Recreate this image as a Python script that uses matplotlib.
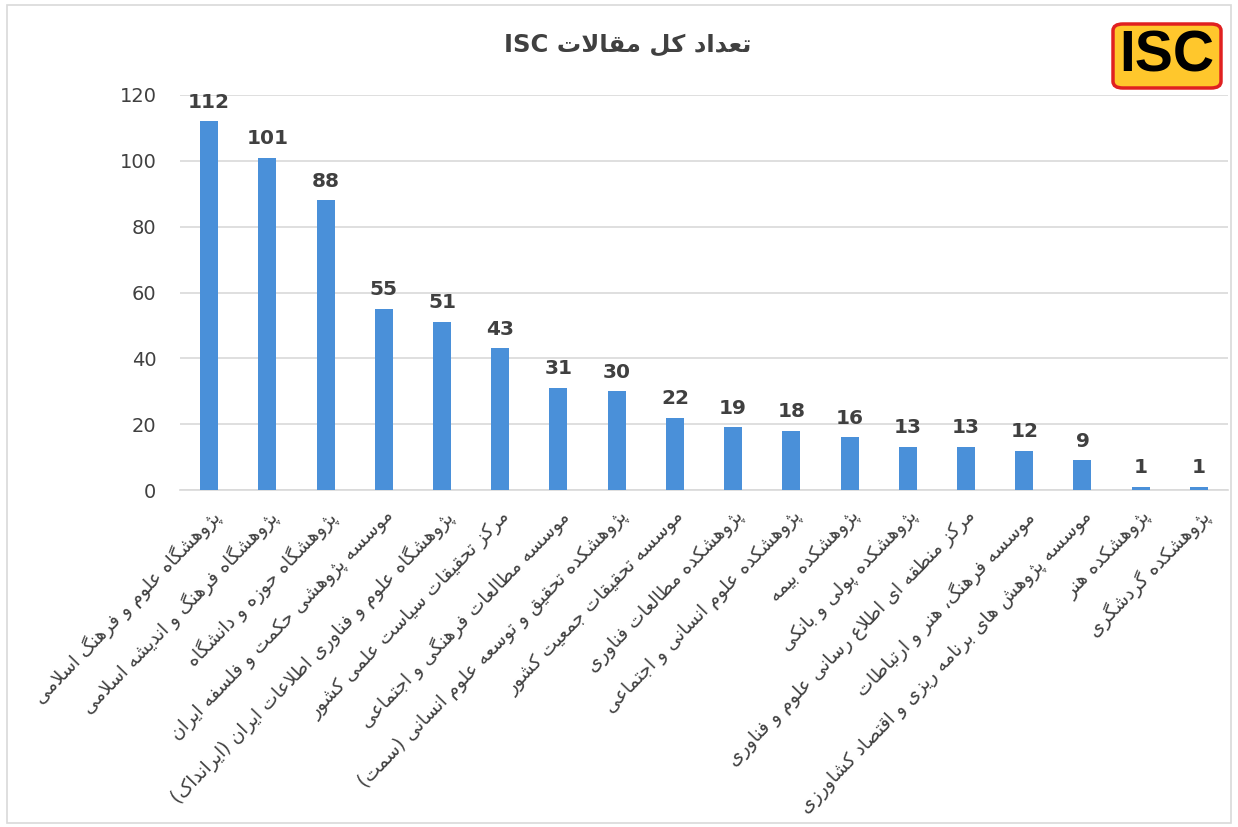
import matplotlib
matplotlib.use("Agg")
import matplotlib.pyplot as plt
from matplotlib.patches import Rectangle, FancyBboxPatch

plt.rcParams['font.family'] = ['DejaVu Sans']

categories = [
    "پژوهشگاه علوم و فرهنگ اسلامی",
    "پژوهشگاه فرهنگ و اندیشه اسلامی",
    "پژوهشگاه حوزه و دانشگاه",
    "موسسه پژوهشی حکمت و فلسفه ایران",
    "پژوهشگاه علوم و فناوری اطلاعات ایران (ایرانداک)",
    "مرکز تحقیقات سیاست علمی کشور",
    "موسسه مطالعات فرهنگی و اجتماعی",
    "پژوهشکده تحقیق و توسعه علوم انسانی (سمت)",
    "موسسه تحقیقات جمعیت کشور",
    "پژوهشکده مطالعات فناوری",
    "پژوهشکده علوم انسانی و اجتماعی",
    "پژوهشکده بیمه",
    "پژوهشکده پولی و بانکی",
    "مرکز منطقه ای اطلاع رسانی علوم و فناوری",
    "موسسه فرهنگ، هنر و ارتباطات",
    "موسسه پژوهش های برنامه ریزی و اقتصاد کشاورزی",
    "پژوهشکده هنر",
    "پژوهشکده گردشگری",
]
values = [112, 101, 88, 55, 51, 43, 31, 30, 22, 19, 18, 16, 13, 13, 12, 9, 1, 1]
yticks = [0, 20, 40, 60, 80, 100, 120]
title_fa = "تعداد کل مقالات"
title_latin = "ISC"

# ---- minimal Arabic/Persian shaping (isolated, final, initial, medial) ----
FORMS = {
    '\u0621': (0xFE80, None, None, None),
    '\u0622': (0xFE81, 0xFE82, None, None),
    '\u0623': (0xFE83, 0xFE84, None, None),
    '\u0624': (0xFE85, 0xFE86, None, None),
    '\u0625': (0xFE87, 0xFE88, None, None),
    '\u0626': (0xFE89, 0xFE8A, 0xFE8B, 0xFE8C),
    '\u0627': (0xFE8D, 0xFE8E, None, None),
    '\u0628': (0xFE8F, 0xFE90, 0xFE91, 0xFE92),
    '\u0629': (0xFE93, 0xFE94, None, None),
    '\u062A': (0xFE95, 0xFE96, 0xFE97, 0xFE98),
    '\u062B': (0xFE99, 0xFE9A, 0xFE9B, 0xFE9C),
    '\u062C': (0xFE9D, 0xFE9E, 0xFE9F, 0xFEA0),
    '\u062D': (0xFEA1, 0xFEA2, 0xFEA3, 0xFEA4),
    '\u062E': (0xFEA5, 0xFEA6, 0xFEA7, 0xFEA8),
    '\u062F': (0xFEA9, 0xFEAA, None, None),
    '\u0630': (0xFEAB, 0xFEAC, None, None),
    '\u0631': (0xFEAD, 0xFEAE, None, None),
    '\u0632': (0xFEAF, 0xFEB0, None, None),
    '\u0633': (0xFEB1, 0xFEB2, 0xFEB3, 0xFEB4),
    '\u0634': (0xFEB5, 0xFEB6, 0xFEB7, 0xFEB8),
    '\u0635': (0xFEB9, 0xFEBA, 0xFEBB, 0xFEBC),
    '\u0636': (0xFEBD, 0xFEBE, 0xFEBF, 0xFEC0),
    '\u0637': (0xFEC1, 0xFEC2, 0xFEC3, 0xFEC4),
    '\u0638': (0xFEC5, 0xFEC6, 0xFEC7, 0xFEC8),
    '\u0639': (0xFEC9, 0xFECA, 0xFECB, 0xFECC),
    '\u063A': (0xFECD, 0xFECE, 0xFECF, 0xFED0),
    '\u0641': (0xFED1, 0xFED2, 0xFED3, 0xFED4),
    '\u0642': (0xFED5, 0xFED6, 0xFED7, 0xFED8),
    '\u0643': (0xFED9, 0xFEDA, 0xFEDB, 0xFEDC),
    '\u0644': (0xFEDD, 0xFEDE, 0xFEDF, 0xFEE0),
    '\u0645': (0xFEE1, 0xFEE2, 0xFEE3, 0xFEE4),
    '\u0646': (0xFEE5, 0xFEE6, 0xFEE7, 0xFEE8),
    '\u0647': (0xFEE9, 0xFEEA, 0xFEEB, 0xFEEC),
    '\u0648': (0xFEED, 0xFEEE, None, None),
    '\u0649': (0xFEEF, 0xFEF0, None, None),
    '\u064A': (0xFEF1, 0xFEF2, 0xFEF3, 0xFEF4),
    '\u067E': (0xFB56, 0xFB57, 0xFB58, 0xFB59),
    '\u0686': (0xFB7A, 0xFB7B, 0xFB7C, 0xFB7D),
    '\u0698': (0xFB8A, 0xFB8B, None, None),
    '\u06A9': (0xFB8E, 0xFB8F, 0xFB90, 0xFB91),
    '\u06AF': (0xFB92, 0xFB93, 0xFB94, 0xFB95),
    '\u06CC': (0xFBFC, 0xFBFD, 0xFBFE, 0xFBFF),
}
LAMALEF = {'\u0627': (0xFEFB, 0xFEFC), '\u0622': (0xFEF5, 0xFEF6),
           '\u0623': (0xFEF7, 0xFEF8), '\u0625': (0xFEF9, 0xFEFA)}


def dual(c):
    return c in FORMS and FORMS[c][2] is not None


def joining(c):
    return c in FORMS and FORMS[c][1] is not None


def shape(s):
    out = []
    i = 0
    n = len(s)
    while i < n:
        c = s[i]
        prev = s[i - 1] if i > 0 else ''
        pj = dual(prev)
        if c == '\u0644' and i + 1 < n and s[i + 1] in LAMALEF:
            iso, fin = LAMALEF[s[i + 1]]
            out.append(chr(fin if pj else iso))
            i += 2
            continue
        if c not in FORMS:
            out.append(c)
            i += 1
            continue
        nxt = s[i + 1] if i + 1 < n else ''
        nj = dual(c) and joining(nxt)
        f = FORMS[c]
        if pj and nj:
            code = f[3]
        elif pj and f[1] is not None:
            code = f[1]
        elif nj:
            code = f[2]
        else:
            code = f[0]
        out.append(chr(code))
        i += 1
    return out


def rtl(s):
    chars = shape(s)[::-1]
    swap = {'(': ')', ')': '('}
    return ''.join(swap.get(c, c) for c in chars)


fig = plt.figure(figsize=(12.38, 8.27), dpi=100)
ax = fig.add_axes([180 / 1238, 1 - 490 / 827, (1228 - 180) / 1238, (490 - 95) / 827])

x = list(range(len(values)))
bars = ax.bar(x, values, width=0.31, color='#4A90D9', zorder=3)
for xi, v in zip(x, values):
    ax.annotate(str(v), (xi, v), xytext=(0, 7), textcoords='offset points',
                ha='center', va='bottom', fontsize=14.5, fontweight='bold',
                color='#404040')

ax.set_xlim(-0.5, len(values) - 0.5)
ax.set_ylim(0, 120)
ax.set_yticks(yticks)
ax.set_yticklabels([str(t) for t in yticks], fontsize=14, color='#404040')
ax.yaxis.grid(True, color='#D9D9D9', linewidth=1.2, zorder=0)
ax.tick_params(axis='y', length=0, pad=17)
ax.tick_params(axis='x', length=0, pad=12)
for sp in ['top', 'right', 'left']:
    ax.spines[sp].set_visible(False)
ax.spines['bottom'].set_color('#D9D9D9')
ax.spines['bottom'].set_linewidth(1.2)

ax.set_xticks(x)
ax.set_xticklabels([rtl(c) for c in categories], rotation=46, ha='right',
                   rotation_mode='anchor', fontsize=13.5, color='#404040')

fig.text(628 / 1238, 1 - 45 / 827, title_latin + ' ' + rtl(title_fa),
         ha='center', va='center', fontsize=17.5, fontweight='bold', color='#404040')

# outer chart frame
fig.patches.append(Rectangle((7 / 1238, 4 / 827), 1224 / 1238, 818 / 827,
                             transform=fig.transFigure, fill=False,
                             edgecolor='#D9D9D9', linewidth=1.2))

# ISC logo
logo = FancyBboxPatch((1113 / 1238, 1 - 88 / 827), 108 / 1238, 64 / 827,
                      boxstyle='round,pad=0,rounding_size=0.008',
                      transform=fig.transFigure, facecolor='#FFC72C',
                      edgecolor='#E02020', linewidth=2.5)
fig.patches.append(logo)
fig.text(1167 / 1238, 1 - 57 / 827, 'ISC', ha='center', va='center',
         fontsize=41, fontweight='bold', family='Liberation Sans', color='black')

fig.savefig('out.png', dpi=100, facecolor='white')
